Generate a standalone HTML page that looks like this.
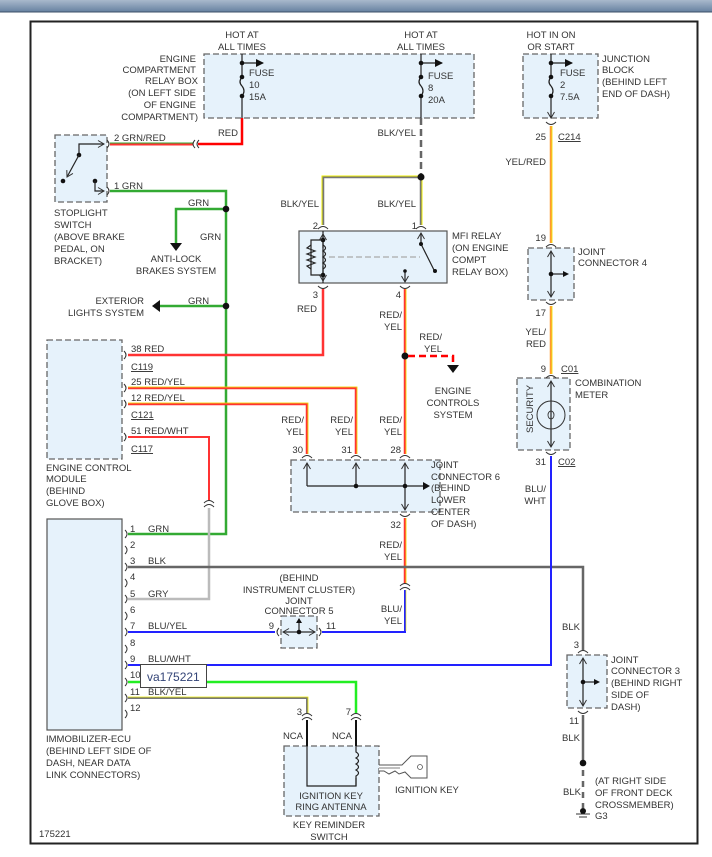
<!DOCTYPE html>
<html><head><meta charset="utf-8"><style>
html,body{margin:0;padding:0;background:#fff;}
svg{display:block;}
text{font-family:"Liberation Sans",sans-serif;font-size:9.5px;fill:#333;}
.box{fill:#e6f2fb;stroke:#666;stroke-width:1.3;stroke-dasharray:6 3;}
.w{fill:none;stroke-linejoin:miter;}
.blk{stroke:#222;stroke-width:1.2;fill:none;}
.c{fill:none;stroke:#333;stroke-width:1;}
</style></head><body>
<svg width="712" height="857" viewBox="0 0 712 857" xmlns="http://www.w3.org/2000/svg">
<defs>
<linearGradient id="hg" x1="0" y1="0" x2="0" y2="1"><stop offset="0" stop-color="#a9b9cc"/><stop offset="1" stop-color="#6681a0"/></linearGradient>
<marker id="ar" markerWidth="8" markerHeight="8" refX="7" refY="4" orient="auto" markerUnits="userSpaceOnUse"><path d="M0,0 L8,4 L0,8 z" fill="#111"/></marker>
<marker id="oa" markerWidth="8" markerHeight="8" refX="7" refY="4" orient="auto" markerUnits="userSpaceOnUse"><path d="M1,0.5 L7,4 L1,7.5" fill="none" stroke="#333" stroke-width="1"/></marker>
</defs>
<rect x="0" y="0" width="712" height="12" fill="url(#hg)"/>
<line x1="0" y1="12" x2="712" y2="12" stroke="#3c5068" stroke-width="1"/>
<rect x="30.5" y="21.5" width="667" height="822" fill="#fff" stroke="#222" stroke-width="2"/>

<rect class="box" x="204" y="54" width="270" height="64"/>
<rect class="box" x="523" y="54" width="75" height="64"/>
<rect class="box" x="55" y="135" width="52" height="67"/>
<rect x="299" y="231" width="148" height="52" fill="#e6f2fb" stroke="#555" stroke-width="1.2"/>
<rect class="box" x="528" y="248" width="46" height="52"/>
<rect class="box" x="47" y="340" width="75" height="119"/>
<rect class="box" x="517" y="378" width="53" height="72"/>
<rect class="box" x="291" y="460" width="149" height="52"/>
<rect x="47" y="519" width="75" height="211" fill="#e6f2fb" stroke="#555" stroke-width="1.2"/>
<rect class="box" x="281" y="616" width="36" height="32"/>
<rect class="box" x="567" y="655" width="40" height="53"/>
<rect class="box" x="284" y="746" width="95" height="70"/>

<line class="blk" x1="242" y1="54" x2="242" y2="77"/>
<path class="blk" d="M242,77 q-4,5 0,9 q4,5 0,10"/>
<line class="blk" x1="242" y1="96" x2="242" y2="118"/>
<line class="blk" x1="242" y1="63" x2="263" y2="63" marker-end="url(#ar)"/>
<circle cx="242" cy="63" r="2.3" fill="#111"/><circle cx="242" cy="77" r="2.3" fill="#111"/><circle cx="242" cy="96" r="2.3" fill="#111"/>
<line class="blk" x1="421" y1="54" x2="421" y2="77"/>
<path class="blk" d="M421,77 q-4,5 0,9 q4,5 0,10"/>
<line class="blk" x1="421" y1="96" x2="421" y2="118"/>
<line class="blk" x1="421" y1="63" x2="442" y2="63" marker-end="url(#ar)"/>
<circle cx="421" cy="63" r="2.3" fill="#111"/><circle cx="421" cy="77" r="2.3" fill="#111"/><circle cx="421" cy="96" r="2.3" fill="#111"/>
<line class="blk" x1="551" y1="54" x2="551" y2="77"/>
<path class="blk" d="M551,77 q-4,5 0,9 q4,5 0,10"/>
<line class="blk" x1="551" y1="96" x2="551" y2="118" marker-end="url(#oa)"/>
<line class="blk" x1="551" y1="63" x2="572" y2="63" marker-end="url(#ar)"/>
<circle cx="551" cy="63" r="2.3" fill="#111"/><circle cx="551" cy="77" r="2.3" fill="#111"/><circle cx="551" cy="96" r="2.3" fill="#111"/>

<path class="w" d="M242,118 V144 H198" stroke="#f00" stroke-width="2.5"/>
<path class="w" d="M110,144 H193" stroke="#f33" stroke-width="3"/>
<path class="w" d="M110,143 H193" stroke="#3a3" stroke-width="1"/>
<path d="M199,140 q-4,4 0,8 M195,140 q-4,4 0,8" class="c"/>
<path class="w" d="M110,191 H226 V534 H128" stroke="#3a3" stroke-width="2.5"/>
<path class="w" d="M226,209 H176 V244" stroke="#3a3" stroke-width="2.5"/>
<path d="M170,243 L182,243 L176,251 z" fill="#111"/>
<circle cx="226" cy="209" r="3.3" fill="#111"/>
<path class="w" d="M226,306 H158" stroke="#3a3" stroke-width="2.5"/>
<path d="M152,306 L160,300 L160,312 z" fill="#111"/>
<circle cx="226" cy="306" r="3.3" fill="#111"/>
<path class="blk" d="M79,155 L79,144 L104,144" marker-end="url(#oa)"/>
<circle cx="79" cy="155" r="2.3" fill="#111"/>
<line class="blk" x1="79" y1="155" x2="67" y2="177" marker-end="url(#oa)"/>
<circle cx="63" cy="181" r="2.3" fill="#111"/>
<circle cx="95" cy="181" r="2.3" fill="#111"/>
<path class="blk" d="M95,181 V191 H104" marker-end="url(#oa)"/>
<path d="M107,140 q4,4 0,8 M107,187 q4,4 0,8" class="c"/>

<line x1="421" y1="118" x2="421" y2="177" stroke="#666" stroke-width="2.5" stroke-dasharray="7 4"/>
<path class="w" d="M421,177 H323 V225" stroke="#777" stroke-width="2.5"/>
<path class="w" d="M421,176 H322 V225" stroke="#ee0" stroke-width="1"/>
<path class="w" d="M421,177 V225" stroke="#777" stroke-width="2.5"/>
<path class="w" d="M422,177 V225" stroke="#ee0" stroke-width="1"/>
<circle cx="421" cy="177" r="3.5" fill="#111"/>
<path d="M318,229 q5,-5 10,0 M416,229 q5,-5 10,0" class="c"/>
<line class="blk" x1="323" y1="231" x2="323" y2="283"/>
<line class="blk" x1="323" y1="248" x2="323" y2="234" marker-end="url(#oa)"/>
<line class="blk" x1="323" y1="266" x2="323" y2="281" marker-end="url(#oa)"/>
<circle cx="323" cy="240" r="2.3" fill="#111"/><circle cx="323" cy="275" r="2.3" fill="#111"/>
<path class="blk" d="M323,240 H311 V275 H323"/>
<path class="blk" d="M311,245 l-4,3 l8,3 l-8,3 l8,3 l-8,3 l8,3 l-8,3 l4,3"/>
<path class="blk" d="M323,245 q5,3 0,6 q5,3 0,6 q5,3 0,6 q5,3 0,6"/>
<line x1="329" y1="257" x2="420" y2="257" stroke="#aaa" stroke-width="1.2" stroke-dasharray="6 3"/>
<line class="blk" x1="421" y1="244" x2="421" y2="233" marker-end="url(#oa)"/>
<line class="blk" x1="421" y1="244" x2="434" y2="270"/>
<circle cx="421" cy="244" r="2" fill="#111"/><circle cx="435" cy="271" r="2" fill="#111"/>
<line class="blk" x1="405" y1="271" x2="405" y2="282" marker-end="url(#oa)"/>
<circle cx="405" cy="271" r="1.8" fill="#111"/>
<path d="M318,286 q5,5 10,0 M400,286 q5,5 10,0" class="c"/>

<path class="w" d="M323,289 V355 H128" stroke="#f33" stroke-width="2.5"/>
<path class="w" d="M128,388 H356 V454" stroke="#f33" stroke-width="2.5"/>
<path class="w" d="M128,387 H357 V454" stroke="#ee0" stroke-width="0.8"/>
<path class="w" d="M128,404 H307 V454" stroke="#f33" stroke-width="2.5"/>
<path class="w" d="M128,403 H308 V454" stroke="#ee0" stroke-width="0.8"/>
<path class="w" d="M405,289 V454" stroke="#f33" stroke-width="2.5"/>
<path class="w" d="M406,289 V454" stroke="#ee0" stroke-width="0.8"/>
<circle cx="405" cy="356" r="3.5" fill="#111"/>
<path class="w" d="M408,356 H453 V366" stroke="#f00" stroke-width="2.5" stroke-dasharray="7 4"/>
<path d="M447,365 L459,365 L453,373 z" fill="#111"/>
<path d="M302,458 q5,-5 10,0 M351,458 q5,-5 10,0 M400,458 q5,-5 10,0" class="c"/>
<line class="blk" x1="307" y1="486" x2="307" y2="463" marker-end="url(#oa)"/>
<line class="blk" x1="356" y1="486" x2="356" y2="463" marker-end="url(#oa)"/>
<line class="blk" x1="405" y1="486" x2="405" y2="463" marker-end="url(#oa)"/>
<line class="blk" x1="405" y1="486" x2="405" y2="510" marker-end="url(#oa)"/>
<line class="blk" x1="307" y1="486" x2="426" y2="486"/>
<path d="M423,482 L430,486 L423,490 z" fill="#111"/>
<circle cx="356" cy="486" r="2.3" fill="#111"/><circle cx="405" cy="486" r="2.3" fill="#111"/>
<path d="M400,514 q5,5 10,0" class="c"/>
<path class="w" d="M405,518 V584" stroke="#f33" stroke-width="2.5"/>
<path class="w" d="M406,518 V584" stroke="#ee0" stroke-width="0.8"/>
<path d="M400,586 q5,-5 10,0 M400,590 q5,-5 10,0" class="c"/>
<path class="w" d="M405,590 V632 H322" stroke="#22f" stroke-width="2"/>
<path class="w" d="M406,590 V631" stroke="#ee0" stroke-width="0.6"/>
<path class="w" d="M128,437 H209 V501" stroke="#f33" stroke-width="2"/>
<path d="M204,503 q5,-5 10,0 M204,507 q5,-5 10,0" class="c"/>
<path class="w" d="M209,508 V599 H128" stroke="#bbb" stroke-width="2.5"/>
<path class="w" d="M128,567 H583 V650" stroke="#666" stroke-width="2.5"/>
<path class="w" d="M128,632 H275" stroke="#22f" stroke-width="2"/>
<path d="M279,628 q-4,4 0,8 M319,628 q4,4 0,8" class="c"/>
<line class="blk" x1="299" y1="632" x2="283" y2="632" marker-end="url(#oa)"/>
<line class="blk" x1="299" y1="632" x2="315" y2="632" marker-end="url(#oa)"/>
<line class="blk" x1="299" y1="632" x2="299" y2="621"/>
<path d="M296,623 L299,618 L302,623 z" fill="#111"/>
<circle cx="299" cy="632" r="2.3" fill="#111"/>
<path class="w" d="M128,665 H551 V456" stroke="#22f" stroke-width="2"/>
<path class="w" d="M128,682 H356 V713" stroke="#2e2" stroke-width="2.5"/>
<path class="w" d="M128,698 H307 V713" stroke="#777" stroke-width="2"/>
<path class="w" d="M128,697 H308 V713" stroke="#ee0" stroke-width="0.8"/>
<path d="M302,716 q5,-5 10,0 M302,720 q5,-5 10,0 M351,716 q5,-5 10,0 M351,720 q5,-5 10,0" class="c"/>
<path d="M307,720 V746 M356,720 V746" stroke="#111" stroke-width="2"/>
<path class="blk" d="M307,746 V786 H356 V778"/>
<path class="blk" d="M356,746 V752 q5,3 0,6 q5,3 0,6 q5,3 0,6 q5,3 0,6 V786"/>
<path d="M379,765 H402 L411,756 H427 V778 H411 L405,772 L399,774 L395,771 L389,774 L384,771 L379,771" fill="#fff" stroke="#555" stroke-width="1"/>
<line x1="379" y1="768" x2="400" y2="768" stroke="#555" stroke-width="0.8"/>
<circle cx="420" cy="767" r="2.5" fill="none" stroke="#555" stroke-width="0.8"/>
<g class="c">
<path d="M125,530 q4,4 0,8 M125,546 q4,4 0,8 M125,563 q4,4 0,8 M125,579 q4,4 0,8 M125,595 q4,4 0,8 M125,612 q4,4 0,8 M125,628 q4,4 0,8 M125,645 q4,4 0,8 M125,661 q4,4 0,8 M125,678 q4,4 0,8 M125,694 q4,4 0,8 M125,710 q4,4 0,8"/>
<path d="M124,351 q4,4 0,8 M124,384 q4,4 0,8 M124,400 q4,4 0,8 M124,433 q4,4 0,8"/>
</g>
<path class="w" d="M551,126 V243" stroke="#f93" stroke-width="2.5"/>
<path class="w" d="M552,126 V243" stroke="#ee0" stroke-width="0.8"/>
<path d="M546,122 q5,5 10,0 M546,247 q5,-5 10,0 M546,302 q5,5 10,0 M546,378 q5,-5 10,0 M546,452 q5,5 10,0" class="c"/>
<line class="blk" x1="551" y1="274" x2="551" y2="251" marker-end="url(#oa)"/>
<line class="blk" x1="551" y1="274" x2="551" y2="297" marker-end="url(#oa)"/>
<line class="blk" x1="551" y1="274" x2="565" y2="274"/>
<path d="M563,271 L569,274 L563,277 z" fill="#111"/>
<circle cx="551" cy="274" r="2.3" fill="#111"/>
<path class="w" d="M551,306 V374" stroke="#f93" stroke-width="2.5"/>
<path class="w" d="M552,306 V374" stroke="#ee0" stroke-width="0.8"/>
<line class="blk" x1="551" y1="414" x2="551" y2="381" marker-end="url(#oa)"/>
<line class="blk" x1="551" y1="414" x2="551" y2="447" marker-end="url(#oa)"/>
<circle cx="551" cy="415" r="14" fill="none" stroke="#333" stroke-width="1"/>
<ellipse cx="551" cy="415" rx="3" ry="4" fill="none" stroke="#333" stroke-width="0.9"/>
<path d="M578,653 q5,-5 10,0 M578,711 q5,5 10,0" class="c"/>
<line class="blk" x1="583" y1="682" x2="583" y2="658" marker-end="url(#oa)"/>
<line class="blk" x1="583" y1="682" x2="583" y2="706" marker-end="url(#oa)"/>
<line class="blk" x1="583" y1="682" x2="596" y2="682"/>
<path d="M594,679 L600,682 L594,685 z" fill="#111"/>
<circle cx="583" cy="682" r="2.3" fill="#111"/>
<path class="w" d="M583,715 V763" stroke="#666" stroke-width="2.5"/>
<circle cx="583" cy="763" r="3.3" fill="#111"/>
<line x1="583" y1="770" x2="583" y2="808" stroke="#666" stroke-width="2.5" stroke-dasharray="6 5"/>
<circle cx="583" cy="811" r="3" fill="#111"/>
<line x1="576" y1="814" x2="590" y2="814" stroke="#333"/>
<line x1="579" y1="817" x2="587" y2="817" stroke="#333"/>

<rect x="140.5" y="664.5" width="66" height="23" fill="#fff" stroke="#444" stroke-width="1"/>
<text x="147" y="681" style="font-size:12px;fill:#347">va175221</text>

<g text-anchor="middle">
<text x="242" y="38">HOT AT</text><text x="242" y="50">ALL TIMES</text>
<text x="421" y="38">HOT AT</text><text x="421" y="50">ALL TIMES</text>
<text x="551" y="38">HOT IN ON</text><text x="551" y="50">OR START</text>
<text x="176" y="262">ANTI-LOCK</text><text x="176" y="274">BRAKES SYSTEM</text>
<text x="453" y="394">ENGINE</text><text x="453" y="406">CONTROLS</text><text x="453" y="418">SYSTEM</text>
<text x="299" y="581">(BEHIND</text><text x="299" y="593">INSTRUMENT CLUSTER)</text><text x="299" y="604">JOINT</text><text x="299" y="614">CONNECTOR 5</text>
<text x="331" y="799">IGNITION KEY</text><text x="331" y="810">RING ANTENNA</text>
<text x="329" y="828">KEY REMINDER</text><text x="329" y="840">SWITCH</text>
</g>
<g text-anchor="end">
<text x="196" y="62">ENGINE</text><text x="196" y="73">COMPARTMENT</text><text x="198" y="84">RELAY BOX</text><text x="196" y="96">(ON LEFT SIDE</text><text x="196" y="108">OF ENGINE</text><text x="198" y="120">COMPARTMENT)</text>
<text x="238" y="136">RED</text>
<text x="144" y="304">EXTERIOR</text><text x="144" y="316">LIGHTS SYSTEM</text>
<text x="319" y="207">BLK/YEL</text><text x="416" y="136">BLK/YEL</text><text x="416" y="207">BLK/YEL</text>
<text x="317" y="312">RED</text>
<text x="402" y="318">RED/</text><text x="402" y="330">YEL</text>
<text x="442" y="340">RED/</text><text x="442" y="352">YEL</text>
<text x="304" y="423">RED/</text><text x="304" y="435">YEL</text>
<text x="353" y="423">RED/</text><text x="353" y="435">YEL</text>
<text x="402" y="423">RED/</text><text x="402" y="435">YEL</text>
<text x="402" y="548">RED/</text><text x="402" y="560">YEL</text>
<text x="402" y="612">BLU/</text><text x="402" y="624">YEL</text>
<text x="546" y="165">YEL/RED</text>
<text x="546" y="335">YEL/</text><text x="546" y="347">RED</text>
<text x="546" y="492">BLU/</text><text x="546" y="504">WHT</text>
<text x="580" y="630">BLK</text><text x="580" y="741">BLK</text><text x="581" y="795">BLK</text>
<text x="303" y="739">NCA</text><text x="352" y="739">NCA</text>
<text x="318" y="229">2</text><text x="417" y="229">1</text>
<text x="318" y="298">3</text><text x="401" y="298">4</text>
<text x="303" y="453">30</text><text x="352" y="453">31</text><text x="401" y="453">28</text><text x="401" y="528">32</text>
<text x="546" y="140">25</text><text x="546" y="241">19</text><text x="546" y="316">17</text>
<text x="546" y="372">9</text><text x="546" y="465">31</text>
<text x="579" y="648">3</text><text x="579" y="724">11</text>
<text x="302" y="715">3</text><text x="351" y="715">7</text>
<text x="274" y="629">9</text>
</g>
<text x="428" y="79">FUSE</text><text x="428" y="91">8</text><text x="428" y="103">20A</text>
<text x="249" y="76">FUSE</text><text x="249" y="88">10</text><text x="249" y="100">15A</text>
<text x="560" y="76">FUSE</text><text x="560" y="88">2</text><text x="560" y="100">7.5A</text>
<text x="602" y="62">JUNCTION</text><text x="602" y="73">BLOCK</text><text x="602" y="85">(BEHIND LEFT</text><text x="602" y="97">END OF DASH)</text>
<text x="114" y="141">2  GRN/RED</text><text x="114" y="189">1  GRN</text>
<text x="54" y="216">STOPLIGHT</text><text x="54" y="228">SWITCH</text><text x="54" y="240">(ABOVE BRAKE</text><text x="54" y="252">PEDAL, ON</text><text x="54" y="264">BRACKET)</text>
<text x="188" y="206">GRN</text><text x="200" y="240">GRN</text><text x="188" y="304">GRN</text>
<text x="452" y="239">MFI RELAY</text><text x="452" y="251">(ON ENGINE</text><text x="452" y="263">COMPT</text><text x="452" y="275">RELAY BOX)</text>
<text x="578" y="255">JOINT</text><text x="578" y="266">CONNECTOR 4</text>
<text x="575" y="386">COMBINATION</text><text x="575" y="398">METER</text>
<text x="561" y="372" style="text-decoration:underline">C01</text>
<text x="558" y="465" style="text-decoration:underline">C02</text>
<text x="558" y="140" style="text-decoration:underline">C214</text>
<text x="0" y="0" transform="translate(533,433) rotate(-90)">SECURITY</text>
<text x="131" y="352">38   RED</text>
<text x="131" y="370" style="text-decoration:underline">C119</text>
<text x="131" y="385">25   RED/YEL</text>
<text x="131" y="401">12   RED/YEL</text>
<text x="131" y="418" style="text-decoration:underline">C121</text>
<text x="131" y="434">51     RED/WHT</text>
<text x="131" y="452" style="text-decoration:underline">C117</text>
<text x="46" y="471">ENGINE CONTROL</text><text x="46" y="482">MODULE</text><text x="46" y="494">(BEHIND</text><text x="46" y="506">GLOVE BOX)</text>
<text x="431" y="468">JOINT</text><text x="431" y="480">CONNECTOR 6</text><text x="431" y="491">(BEHIND</text><text x="431" y="503">LOWER</text><text x="431" y="515">CENTER</text><text x="431" y="527">OF DASH)</text>
<text x="130" y="532">1</text><text x="148" y="532">GRN</text>
<text x="130" y="548">2</text>
<text x="130" y="564">3</text><text x="148" y="564">BLK</text>
<text x="130" y="580">4</text>
<text x="130" y="597">5</text><text x="148" y="597">GRY</text>
<text x="130" y="613">6</text>
<text x="130" y="629">7</text><text x="148" y="629">BLU/YEL</text>
<text x="130" y="646">8</text>
<text x="130" y="662">9</text><text x="148" y="662">BLU/WHT</text>
<text x="130" y="678">10</text>
<text x="130" y="695">11</text><text x="148" y="695">BLK/YEL</text>
<text x="130" y="711">12</text>
<text x="326" y="629">11</text>
<text x="46" y="742">IMMOBILIZER-ECU</text><text x="46" y="754">(BEHIND LEFT SIDE OF</text><text x="46" y="766">DASH, NEAR DATA</text><text x="46" y="778">LINK CONNECTORS)</text>
<text x="395" y="793">IGNITION KEY</text>
<text x="611" y="663">JOINT</text><text x="611" y="674">CONNECTOR 3</text><text x="611" y="686">(BEHIND RIGHT</text><text x="611" y="698">SIDE OF</text><text x="611" y="710">DASH)</text>
<text x="595" y="784">(AT RIGHT SIDE</text><text x="595" y="796">OF FRONT DECK</text><text x="595" y="808">CROSSMEMBER)</text>
<text x="595" y="819">G3</text>
<text x="39" y="837">175221</text>
</svg>
</body></html>
